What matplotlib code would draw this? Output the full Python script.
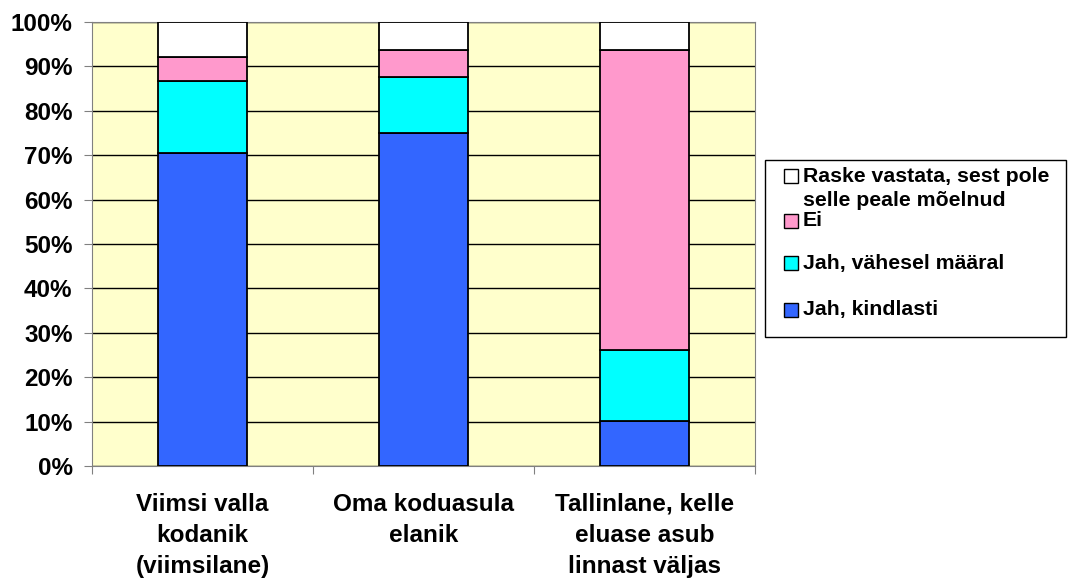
import numpy as np
import matplotlib.pyplot as plt
from matplotlib.patches import Rectangle

plt.rcParams['font.family'] = ['Liberation Sans', 'DejaVu Sans']
plt.rcParams['font.weight'] = 'bold'

categories = ["Viimsi valla\nkodanik\n(viimsilane)", "Oma koduasula\nelanik",
              "Tallinlane, kelle\neluase asub\nlinnast väljas"]
jah_kindlasti = [70.5, 75.1, 10.1]
jah_vahesel = [16.2, 12.5, 16.0]
ei = [5.5, 6.0, 67.6]
raske = [7.8, 6.4, 6.3]

names = ["Jah, kindlasti", "Jah, vähesel määral", "Ei",
         "Raske vastata, sest pole\nselle peale mõelnud"]
colors = ["#3366FF", "#00FFFF", "#FF99CC", "#FFFFFF"]
values = [jah_kindlasti, jah_vahesel, ei, raske]

W, H = 1068, 578
fig = plt.figure(figsize=(W / 100, H / 100), dpi=100)
ax = fig.add_axes([92 / W, 1 - 466 / H, (755 - 92) / W, (466 - 22) / H])
ax.set_facecolor("#FFFFCC")

x = np.arange(len(categories))
bottom = np.zeros(len(categories))
for name, vals, col in zip(names, values, colors):
    ax.bar(x, vals, 0.4, bottom=bottom, color=col, edgecolor="black",
           linewidth=1.3, zorder=3)
    bottom += np.array(vals)

ax.set_xlim(-0.5, 2.5)
ax.set_ylim(0, 100)
ax.set_yticks(np.arange(0, 101, 10))
ax.set_yticklabels([str(v) + "%" for v in range(0, 101, 10)], fontsize=17.5, fontweight='bold')
ax.yaxis.grid(True, color="black", linewidth=1, zorder=1)
ax.set_axisbelow(True)

ax.set_xticks([-0.5, 0.5, 1.5, 2.5])
ax.set_xticklabels([])
ax.tick_params(axis='x', length=6, color="#808080")
ax.tick_params(axis='y', length=6, color="#808080", pad=8)
for i, c in enumerate(categories):
    ax.text(i, -6.0, c, ha='center', va='top', fontsize=17.5, fontweight='bold',
            linespacing=1.45)

for s in ax.spines.values():
    s.set_color("#808080")

# legend drawn by hand (Excel style spacing)
def fx(px):
    return px / W

def fy(py):
    return 1 - py / H

fig.patches.append(Rectangle((fx(765), fy(337)), fx(1066) - fx(765), fy(160) - fy(337),
                             transform=fig.transFigure, facecolor="white",
                             edgecolor="black", linewidth=1))
leg_y = [176, 221, 263, 310]
leg_order = [3, 2, 1, 0]
for k, idx in enumerate(leg_order):
    cy = leg_y[k]
    fig.patches.append(Rectangle((fx(784), fy(cy + 7)), fx(14), 14 / H,
                                 transform=fig.transFigure, facecolor=colors[idx],
                                 edgecolor="black", linewidth=1))
    lines = names[idx].split("\n")
    for j, ln in enumerate(lines):
        fig.text(fx(803), fy(cy + 25 * j), ln, ha='left', va='center',
                 fontsize=15.3, fontweight='bold')

plt.savefig("out.png", dpi=100)
